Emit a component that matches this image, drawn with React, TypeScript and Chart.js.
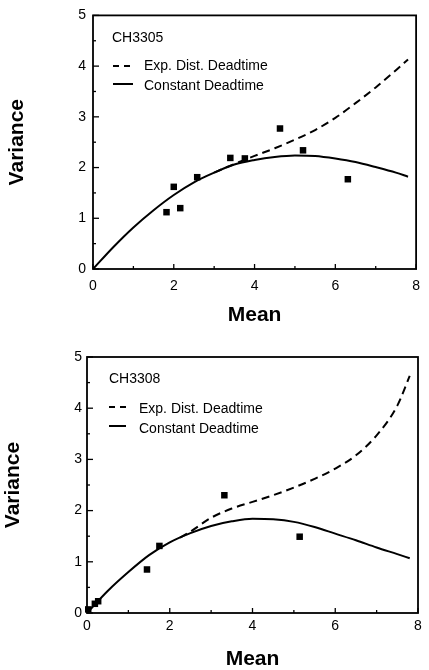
import React, { useEffect, useRef } from "react";
import { Chart, registerables } from "chart.js";

Chart.register(...registerables);

// ---------- data ----------
const xTickValues = [0, 2, 4, 6, 8];
const yTickValues = [0, 1, 2, 3, 4, 5];
const legendLabels = ["Exp. Dist. Deadtime", "Constant Deadtime"];

// CH3305
const ch3305Title = "CH3305";
const ch3305ObsMean = [1.82, 2.0, 2.16, 2.58, 3.4, 3.76, 4.63, 5.2, 6.31];
const ch3305ObsVar = [1.12, 1.62, 1.2, 1.81, 2.19, 2.18, 2.77, 2.34, 1.77];
const ch3305ConstMean = [0, 0.5, 1, 1.5, 2, 2.5, 3, 3.5, 4, 4.5, 5, 5.5, 6, 6.5, 7, 7.5, 7.8];
const ch3305ConstVar = [0, 0.43, 0.82, 1.16, 1.46, 1.71, 1.9, 2.06, 2.15, 2.21, 2.24, 2.23, 2.18, 2.11, 2.01, 1.9, 1.82];
const ch3305ExpMean = [3.0, 3.5, 4, 4.5, 5, 5.5, 6, 6.5, 7, 7.5, 7.8];
const ch3305ExpVar = [1.9, 2.07, 2.23, 2.38, 2.55, 2.74, 2.98, 3.27, 3.58, 3.92, 4.13];

// CH3308
const ch3308Title = "CH3308";
const ch3308ObsMean = [0.03, 0.19, 0.27, 1.45, 1.75, 3.32, 5.14];
const ch3308ObsVar = [0.07, 0.18, 0.23, 0.85, 1.31, 2.3, 1.49];
const ch3308ConstMean = [0, 0.5, 1, 1.5, 2, 2.5, 3, 3.5, 4, 4.5, 5, 5.5, 6, 6.5, 7, 7.5, 7.8];
const ch3308ConstVar = [0, 0.43, 0.8, 1.13, 1.38, 1.56, 1.7, 1.79, 1.84, 1.83, 1.78, 1.68, 1.55, 1.42, 1.28, 1.15, 1.07];
const ch3308ExpMean = [2.25, 2.5, 3, 3.5, 4, 4.5, 5, 5.5, 6, 6.5, 7, 7.5, 7.8];
const ch3308ExpVar = [1.47, 1.59, 1.86, 2.04, 2.17, 2.3, 2.45, 2.62, 2.82, 3.08, 3.47, 4.05, 4.63];

const FONT = "'Liberation Sans', Arial, Helvetica, sans-serif";

const zip = (xs: number[], ys: number[]) => xs.map((x, i) => ({ x, y: ys[i] }));

type Geo = {
  width: number;
  height: number;
  padTop: number;
  padRight: number;
  yAxisWidth: number;
  xAxisHeight: number;
  yTickPad: number;
  xTickPad: number;
  yTitlePad: number;
  xTitlePad: number;
  legend: {
    titleX: number;
    titleY: number;
    sampleX0: number;
    sampleX1: number;
    row1SampleY: number;
    row2SampleY: number;
    textX: number;
    row1TextY: number;
    row2TextY: number;
  };
};

type PanelProps = {
  title: string;
  obsX: number[];
  obsY: number[];
  constX: number[];
  constY: number[];
  expX: number[];
  expY: number[];
  geo: Geo;
  top: number;
};

function Panel({ title, obsX, obsY, constX, constY, expX, expY, geo, top }: PanelProps) {
  const ref = useRef<HTMLCanvasElement | null>(null);

  useEffect(() => {
    if (!ref.current) return;
    const lg = geo.legend;
    const framePlugin = {
      id: "frameTicksLegend",
      afterDatasetsDraw(chart: any) {
        const { ctx, chartArea } = chart;
        const xs = chart.scales.x;
        const ys = chart.scales.y;
        ctx.save();
        ctx.strokeStyle = "#000";
        ctx.lineWidth = 1.8;
        ctx.setLineDash([]);
        ctx.strokeRect(chartArea.left, chartArea.top, chartArea.right - chartArea.left, chartArea.bottom - chartArea.top);
        ctx.lineWidth = 1.3;
        // inward x ticks
        for (let v = 0; v <= 8; v += 1) {
          const px = xs.getPixelForValue(v);
          const len = v % 2 === 0 ? 5 : 3;
          ctx.beginPath();
          ctx.moveTo(px, chartArea.bottom);
          ctx.lineTo(px, chartArea.bottom - len);
          ctx.stroke();
        }
        // inward y ticks
        for (let v = 0; v <= 5; v += 0.5) {
          const py = ys.getPixelForValue(v);
          const len = Number.isInteger(v) ? 6 : 3;
          ctx.beginPath();
          ctx.moveTo(chartArea.left, py);
          ctx.lineTo(chartArea.left + len, py);
          ctx.stroke();
        }
        // legend inside plot
        ctx.fillStyle = "#000";
        ctx.font = `14px ${FONT}`;
        ctx.textAlign = "left";
        ctx.textBaseline = "alphabetic";
        ctx.fillText(title, lg.titleX, lg.titleY);
        ctx.lineWidth = 2;
        ctx.setLineDash([6, 5]);
        ctx.beginPath();
        ctx.moveTo(lg.sampleX0, lg.row1SampleY);
        ctx.lineTo(lg.sampleX1, lg.row1SampleY);
        ctx.stroke();
        ctx.setLineDash([]);
        ctx.beginPath();
        ctx.moveTo(lg.sampleX0, lg.row2SampleY);
        ctx.lineTo(lg.sampleX1, lg.row2SampleY);
        ctx.stroke();
        ctx.fillText(legendLabels[0], lg.textX, lg.row1TextY);
        ctx.fillText(legendLabels[1], lg.textX, lg.row2TextY);
        ctx.restore();
      },
    };

    const chart = new Chart(ref.current, {
      type: "scatter",
      data: {
        datasets: [
          {
            label: legendLabels[0],
            data: zip(expX, expY),
            showLine: true,
            borderColor: "#000",
            borderWidth: 2,
            borderDash: [8, 5],
            pointRadius: 0,
            cubicInterpolationMode: "monotone",
            fill: false,
          },
          {
            label: legendLabels[1],
            data: zip(constX, constY),
            showLine: true,
            borderColor: "#000",
            borderWidth: 2,
            pointRadius: 0,
            cubicInterpolationMode: "monotone",
            fill: false,
          },
          {
            label: "Observed",
            data: zip(obsX, obsY),
            showLine: false,
            pointStyle: "rect",
            pointRadius: 4.6,
            pointBackgroundColor: "#000",
            pointBorderWidth: 0,
            clip: false as any,
          },
        ],
      },
      options: {
        responsive: false,
        animation: false,
        devicePixelRatio: 1,
        layout: { padding: { top: geo.padTop, right: geo.padRight, left: 0, bottom: 0 } },
        plugins: { legend: { display: false }, tooltip: { enabled: false } },
        scales: {
          x: {
            type: "linear",
            min: 0,
            max: 8,
            afterFit: (s: any) => {
              s.height = geo.xAxisHeight;
            },
            afterBuildTicks: (s: any) => {
              s.ticks = xTickValues.map((v) => ({ value: v }));
            },
            grid: { display: false, drawTicks: false },
            border: { display: false },
            ticks: {
              color: "#000",
              padding: geo.xTickPad,
              font: { family: FONT, size: 14 },
              maxRotation: 0,
              autoSkip: false,
            },
            title: {
              display: true,
              text: "Mean",
              color: "#000",
              font: { family: FONT, size: 21, weight: "bold", lineHeight: 1 },
              padding: { top: 0, bottom: geo.xTitlePad },
            },
          },
          y: {
            type: "linear",
            min: 0,
            max: 5,
            afterFit: (s: any) => {
              s.width = geo.yAxisWidth;
            },
            afterBuildTicks: (s: any) => {
              s.ticks = yTickValues.map((v) => ({ value: v }));
            },
            grid: { display: false, drawTicks: false },
            border: { display: false },
            ticks: {
              color: "#000",
              padding: geo.yTickPad,
              font: { family: FONT, size: 14 },
              autoSkip: false,
            },
            title: {
              display: true,
              text: "Variance",
              color: "#000",
              font: { family: FONT, size: 21, weight: "bold", lineHeight: 1 },
              padding: { top: geo.yTitlePad, bottom: 0 },
            },
          },
        },
      } as any,
      plugins: [framePlugin],
    });
    return () => chart.destroy();
  }, []);

  return (
    <canvas
      ref={ref}
      width={geo.width}
      height={geo.height}
      style={{ position: "absolute", left: 0, top, width: geo.width, height: geo.height, display: "block" }}
    />
  );
}

const geo1: Geo = {
  width: 429,
  height: 330,
  padTop: 13.5,
  padRight: 7,
  yAxisWidth: 93,
  xAxisHeight: 61,
  yTickPad: 7,
  xTickPad: 9,
  yTitlePad: 6.5,
  xTitlePad: 4.5,
  legend: {
    titleX: 112,
    titleY: 42,
    sampleX0: 113,
    sampleX1: 133,
    row1SampleY: 66,
    row2SampleY: 84,
    textX: 144,
    row1TextY: 70,
    row2TextY: 90,
  },
};

const geo2: Geo = {
  width: 429,
  height: 340,
  padTop: 27,
  padRight: 11,
  yAxisWidth: 87,
  xAxisHeight: 57,
  yTickPad: 5,
  xTickPad: 5,
  yTitlePad: 3,
  xTitlePad: 0,
  legend: {
    titleX: 109,
    titleY: 53,
    sampleX0: 109,
    sampleX1: 126,
    row1SampleY: 77,
    row2SampleY: 96,
    textX: 139,
    row1TextY: 83,
    row2TextY: 102.5,
  },
};

export default function App() {
  return (
    <div style={{ position: "absolute", left: 0, top: 0, width: 429, height: 670, background: "#fff" }}>
      <Panel
        title={ch3305Title}
        obsX={ch3305ObsMean}
        obsY={ch3305ObsVar}
        constX={ch3305ConstMean}
        constY={ch3305ConstVar}
        expX={ch3305ExpMean}
        expY={ch3305ExpVar}
        geo={geo1}
        top={0}
      />
      <Panel
        title={ch3308Title}
        obsX={ch3308ObsMean}
        obsY={ch3308ObsVar}
        constX={ch3308ConstMean}
        constY={ch3308ConstVar}
        expX={ch3308ExpMean}
        expY={ch3308ExpVar}
        geo={geo2}
        top={330}
      />
    </div>
  );
}
